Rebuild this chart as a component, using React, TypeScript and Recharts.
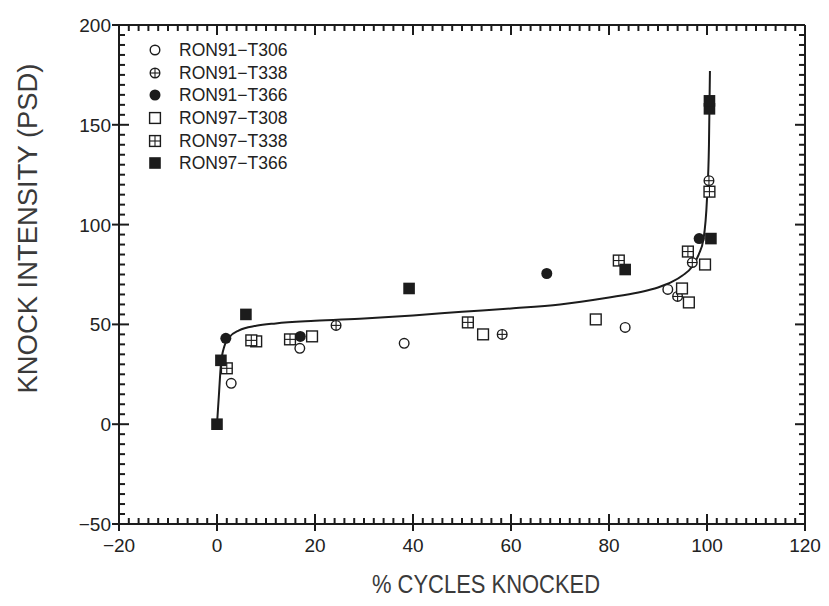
import React from 'react';
import { ComposedChart, XAxis, YAxis, Scatter, Line, Legend, ReferenceLine } from 'recharts';

// ---- data -------------------------------------------------------------
type Pt = { x: number; y: number };

const ron91T306: Pt[] = [
  { x: 2.9, y: 20.5 }, { x: 16.9, y: 38 }, { x: 38.2, y: 40.5 },
  { x: 83.3, y: 48.5 }, { x: 92, y: 67.5 },
];
const ron91T338: Pt[] = [
  { x: 24.3, y: 49.5 }, { x: 58.2, y: 45 }, { x: 94, y: 64 },
  { x: 97, y: 81 }, { x: 100.4, y: 122 },
];
const ron91T366: Pt[] = [
  { x: 1.8, y: 43 }, { x: 17, y: 44 }, { x: 67.3, y: 75.5 }, { x: 98.4, y: 93 },
];
const ron97T308: Pt[] = [
  { x: 8, y: 41.5 }, { x: 19.4, y: 44 }, { x: 54.3, y: 45 }, { x: 77.3, y: 52.5 },
  { x: 94.9, y: 68 }, { x: 96.3, y: 61 }, { x: 99.6, y: 80 },
];
const ron97T338: Pt[] = [
  { x: 2, y: 28 }, { x: 7, y: 42 }, { x: 14.9, y: 42.5 }, { x: 51.2, y: 51 },
  { x: 82, y: 82 }, { x: 96.1, y: 86.5 }, { x: 100.5, y: 116.5 },
];
const ron97T366: Pt[] = [
  { x: 0, y: 0 }, { x: 0.8, y: 32 }, { x: 5.9, y: 55 }, { x: 39.2, y: 68 },
  { x: 83.3, y: 77.5 }, { x: 100.8, y: 93 }, { x: 100.5, y: 158 }, { x: 100.5, y: 162 },
];

// fitted trend curve
const fitCurve: Pt[] = [
  { x: 0, y: 0 }, { x: 0.4, y: 15 }, { x: 0.8, y: 30 }, { x: 1.5, y: 39 },
  { x: 2.5, y: 43.5 }, { x: 4.5, y: 47 }, { x: 8, y: 49.3 }, { x: 12, y: 50.5 },
  { x: 20, y: 51.8 }, { x: 30, y: 53 }, { x: 40, y: 54.5 }, { x: 50, y: 56.3 },
  { x: 60, y: 58 }, { x: 70, y: 60 }, { x: 80, y: 63.5 }, { x: 86, y: 66 },
  { x: 90, y: 68.5 }, { x: 93, y: 71.5 }, { x: 95, y: 74.5 }, { x: 97, y: 79 },
  { x: 98.3, y: 85 }, { x: 99.3, y: 93 }, { x: 100, y: 113 }, { x: 100.4, y: 140 },
  { x: 100.6, y: 177 },
];

const xMajorTicks = [-20, 0, 20, 40, 60, 80, 100, 120];
const yMajorTicks = [-50, 0, 50, 100, 150, 200];
const X_DOMAIN: [number, number] = [-20, 120];
const Y_DOMAIN: [number, number] = [-50, 200];
const X_MINOR_STEP = 2;
const Y_MINOR_STEP = 5;

type MarkerKind = 'circle' | 'circlePlus' | 'dot' | 'square' | 'squareGrid' | 'block';

const seriesList: { name: string; data: Pt[]; marker: MarkerKind }[] = [
  { name: 'RON91\u2212T306', data: ron91T306, marker: 'circle' },
  { name: 'RON91\u2212T338', data: ron91T338, marker: 'circlePlus' },
  { name: 'RON91\u2212T366', data: ron91T366, marker: 'dot' },
  { name: 'RON97\u2212T308', data: ron97T308, marker: 'square' },
  { name: 'RON97\u2212T338', data: ron97T338, marker: 'squareGrid' },
  { name: 'RON97\u2212T366', data: ron97T366, marker: 'block' },
];

// ---- layout / style ----------------------------------------------------
const CHART_W = 821;
const CHART_H = 598;
const MARGIN = { top: 17, right: 24, left: 51, bottom: 42 };
const Y_AXIS_W = 60;
const X_AXIS_H = 40;
const PLOT_TOP = MARGIN.top;
const PLOT_RIGHT = CHART_W - MARGIN.right;
const INK = '#1c1c1c';
const FONT = '"Liberation Sans", Arial, Helvetica, sans-serif';

const MINOR_LEN = 6;
const MAJOR_LEN = 10;
const OUT_LEN = 7;
const TICK_W = 2;

const stepTicks = (lo: number, hi: number, step: number) => {
  const out: number[] = [];
  for (let v = lo; v <= hi + 1e-9; v += step) out.push(Math.round(v * 100) / 100);
  return out;
};
const xTicks = stepTicks(X_DOMAIN[0], X_DOMAIN[1], X_MINOR_STEP);
const yTicks = stepTicks(Y_DOMAIN[0], Y_DOMAIN[1], Y_MINOR_STEP);

const fmt = (v: number) => (v < 0 ? `\u2212${-v}` : `${v}`);

// ---- markers -----------------------------------------------------------
function Marker({ kind, cx, cy }: { kind: MarkerKind; cx: number; cy: number }) {
  const r = 4.8;
  const h = 5.4;
  const sw = 1.4;
  switch (kind) {
    case 'circle':
      return <circle cx={cx} cy={cy} r={r} fill="#fff" stroke={INK} strokeWidth={sw} />;
    case 'circlePlus':
      return (
        <g>
          <circle cx={cx} cy={cy} r={r} fill="#fff" stroke={INK} strokeWidth={sw} />
          <line x1={cx - r} x2={cx + r} y1={cy} y2={cy} stroke={INK} strokeWidth={1.1} />
          <line x1={cx} x2={cx} y1={cy - r} y2={cy + r} stroke={INK} strokeWidth={1.1} />
        </g>
      );
    case 'dot':
      return <circle cx={cx} cy={cy} r={5.5} fill={INK} />;
    case 'square':
      return <rect x={cx - h} y={cy - h} width={2 * h} height={2 * h} fill="#fff" stroke={INK} strokeWidth={sw} />;
    case 'squareGrid':
      return (
        <g>
          <rect x={cx - h} y={cy - h} width={2 * h} height={2 * h} fill="#fff" stroke={INK} strokeWidth={sw} />
          <line x1={cx - h} x2={cx + h} y1={cy} y2={cy} stroke={INK} strokeWidth={1.1} />
          <line x1={cx} x2={cx} y1={cy - h} y2={cy + h} stroke={INK} strokeWidth={1.1} />
        </g>
      );
    case 'block':
    default:
      return <rect x={cx - 5.8} y={cy - 5.8} width={11.6} height={11.6} fill={INK} />;
  }
}

const shapeFor = (kind: MarkerKind) => (props: any) => (
  <Marker kind={kind} cx={props.cx} cy={props.cy} />
);

// ---- axis ticks: inward marks on both sides of the frame, majors also poke outward ----
function XTick(props: any) {
  const x = Number(props.x);
  const y = Number(props.y);
  const v = Number(props.payload?.value);
  const major = xMajorTicks.includes(v);
  const len = major ? MAJOR_LEN : MINOR_LEN;
  return (
    <g className="axis-tick">
      <line x1={x} x2={x} y1={y - len} y2={major ? y + OUT_LEN : y}
        stroke={INK} strokeWidth={TICK_W} />
      <line x1={x} x2={x} y1={PLOT_TOP} y2={PLOT_TOP + len}
        stroke={INK} strokeWidth={TICK_W} />
      {major && (
        <text x={x} y={y + 28} textAnchor="middle" fill="#222"
          fontSize={19} fontFamily={FONT}>
          {fmt(v)}
        </text>
      )}
    </g>
  );
}

function YTick(props: any) {
  const x = Number(props.x);
  const y = Number(props.y);
  const v = Number(props.payload?.value);
  const major = yMajorTicks.includes(v);
  const len = major ? MAJOR_LEN : MINOR_LEN;
  return (
    <g className="axis-tick">
      <line x1={major ? x - OUT_LEN : x} x2={x + len} y1={y} y2={y}
        stroke={INK} strokeWidth={TICK_W} />
      <line x1={PLOT_RIGHT - len} x2={PLOT_RIGHT} y1={y} y2={y}
        stroke={INK} strokeWidth={TICK_W} />
      {major && (
        <text x={x - 8} y={y + 7} textAnchor="end" fill="#222"
          fontSize={19} fontFamily={FONT}>
          {fmt(v)}
        </text>
      )}
    </g>
  );
}

// ---- axis titles ---------------------------------------------------------
function XTitle(props: any) {
  const vb = props.viewBox || {};
  const cx = vb.x + vb.width / 2 + 24;
  return (
    <text x={cx} y={vb.y + 69} textAnchor="middle" fill="#3a3a3a" fontSize={26}
      fontFamily={FONT} textLength={228} lengthAdjust="spacingAndGlyphs">
      % CYCLES KNOCKED
    </text>
  );
}

function YTitle(props: any) {
  const vb = props.viewBox || {};
  const cx = vb.x - 22;
  const cy = vb.y + vb.height / 2 - 46;
  return (
    <text x={cx} y={cy} transform={`rotate(-90 ${cx} ${cy})`} textAnchor="middle"
      fill="#3a3a3a" fontSize={27} fontFamily={FONT} textLength={330}
      lengthAdjust="spacingAndGlyphs">
      KNOCK INTENSITY (PSD)
    </text>
  );
}

// ---- legend --------------------------------------------------------------
function LegendBox() {
  return (
    <div style={{ fontFamily: FONT, fontSize: 17.5, color: '#222' }}>
      {seriesList.map((s) => (
        <div key={s.name} style={{ display: 'flex', alignItems: 'center', height: 22.6 }}>
          <svg width={14} height={14} style={{ overflow: 'visible' }}>
            <Marker kind={s.marker} cx={7} cy={7} />
          </svg>
          <span style={{ marginLeft: 17, lineHeight: '22px' }}>{s.name}</span>
        </div>
      ))}
    </div>
  );
}

export default function App() {
  return (
    <ComposedChart width={CHART_W} height={CHART_H} margin={MARGIN}>
      <XAxis
        type="number"
        dataKey="x"
        domain={X_DOMAIN}
        ticks={xTicks}
        interval={0}
        height={X_AXIS_H}
        tickSize={0}
        tickMargin={0}
        tickLine={false}
        tick={XTick}
        axisLine={{ stroke: INK, strokeWidth: 2 }}
        allowDataOverflow
        label={<XTitle />}
      />
      <YAxis
        type="number"
        dataKey="y"
        domain={Y_DOMAIN}
        ticks={yTicks}
        interval={0}
        width={Y_AXIS_W}
        tickSize={0}
        tickMargin={0}
        tickLine={false}
        tick={YTick}
        axisLine={{ stroke: INK, strokeWidth: 2 }}
        allowDataOverflow
        label={<YTitle />}
      />
      <ReferenceLine y={Y_DOMAIN[1]} stroke={INK} strokeWidth={2} />
      <ReferenceLine x={X_DOMAIN[1]} stroke={INK} strokeWidth={2} />
      <Line
        data={fitCurve}
        dataKey="y"
        type="monotone"
        stroke={INK}
        strokeWidth={2}
        dot={false}
        activeDot={false}
        legendType="none"
        isAnimationActive={false}
      />
      {seriesList.map((s) => (
        <Scatter
          key={s.name}
          name={s.name}
          data={s.data}
          dataKey="y"
          shape={shapeFor(s.marker)}
          isAnimationActive={false}
        />
      ))}
      <Legend
        layout="vertical"
        align="center"
        verticalAlign="middle"
        content={<LegendBox />}
        wrapperStyle={{ left: 140, top: 31, width: 'auto' }}
      />
    </ComposedChart>
  );
}
